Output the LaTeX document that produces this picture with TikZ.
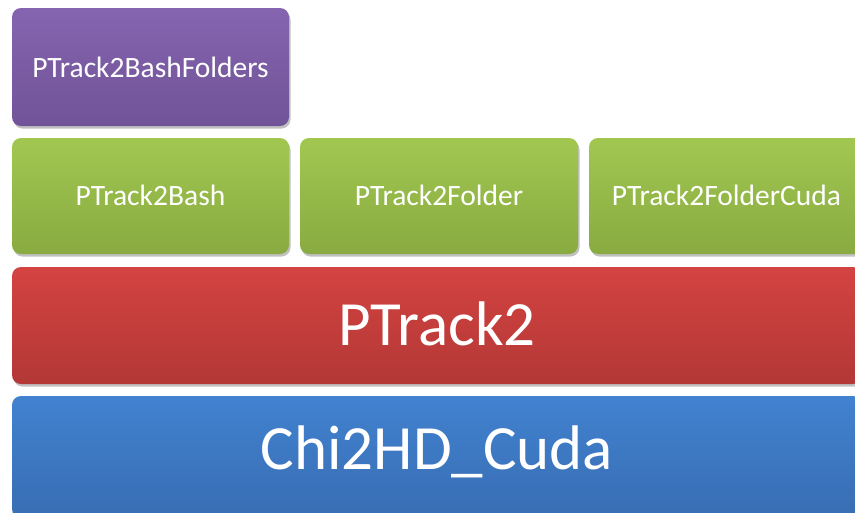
\documentclass[tikz,border=0pt]{standalone}
\usepackage{fontspec}
\setmainfont{Carlito}
\usetikzlibrary{shadows}
\definecolor{purpleTop}{HTML}{8A69B5}
\definecolor{purpleBot}{HTML}{684C8E}
\definecolor{greenTop}{HTML}{A8CF55}
\definecolor{greenBot}{HTML}{7E9E3A}
\definecolor{redTop}{HTML}{DC4644}
\definecolor{redBot}{HTML}{A53331}
\definecolor{blueTop}{HTML}{4487D8}
\definecolor{blueBot}{HTML}{3465A6}
% vertical gloss shadings: dark bottom, bright rim along the top edge
\pgfdeclareverticalshading{purpleGloss}{100bp}{color(0bp)=(purpleBot!85!black); color(4bp)=(purpleBot); color(88bp)=(purpleTop); color(96bp)=(purpleTop!65!white); color(100bp)=(purpleTop)}
\pgfdeclareverticalshading{greenGloss}{100bp}{color(0bp)=(greenBot!85!black); color(4bp)=(greenBot); color(88bp)=(greenTop); color(96bp)=(greenTop!65!white); color(100bp)=(greenTop)}
\pgfdeclareverticalshading{redGloss}{100bp}{color(0bp)=(redBot!85!black); color(4bp)=(redBot); color(88bp)=(redTop); color(96bp)=(redTop!65!white); color(100bp)=(redTop)}
\pgfdeclareverticalshading{blueGloss}{100bp}{color(0bp)=(blueBot!85!black); color(4bp)=(blueBot); color(88bp)=(blueTop); color(96bp)=(blueTop!65!white); color(100bp)=(blueTop)}
\tikzset{
  layer/.style={rounded corners=9pt, draw=none,
    drop shadow={shadow xshift=1.5pt, shadow yshift=-2.5pt, opacity=0.35, fill=black!70}},
  small/.style={text=white, font=\fontsize{29.5}{34}\selectfont},
  big/.style={text=white, font=\fontsize{63}{72}\selectfont},
}
\begin{document}
\begin{tikzpicture}[x=1pt,y=-1pt]
  \useasboundingbox (0,0) rectangle (855,512);
  \clip (0,0) rectangle (855,512);
  % top tier
  \path[layer, shading=purpleGloss] (12,8) rectangle (289,126);
  \node[small] (bashfolders) at (150.5,67) {PTrack2BashFolders};
  % second tier
  \path[layer, shading=greenGloss] (12,138) rectangle (289,254);
  \path[layer, shading=greenGloss] (300,138) rectangle (578,254);
  \path[layer, shading=greenGloss] (589,138) rectangle (864,254);
  \node[small] (bash) at (150.5,195) {PTrack2Bash};
  \node[small] (folder) at (439,195) {PTrack2Folder};
  \node[small] (foldercuda) at (726.5,195) {PTrack2FolderCuda};
  % base tiers
  \path[layer, shading=redGloss] (12,267) rectangle (862,384);
  \node[big] (ptrack) at (437,324) {PTrack2};
  \path[layer, shading=blueGloss] (12,396) rectangle (862,518);
  \node[big] (chi) at (437,452) {Chi2HD\_Cuda};
\end{tikzpicture}
\end{document}
